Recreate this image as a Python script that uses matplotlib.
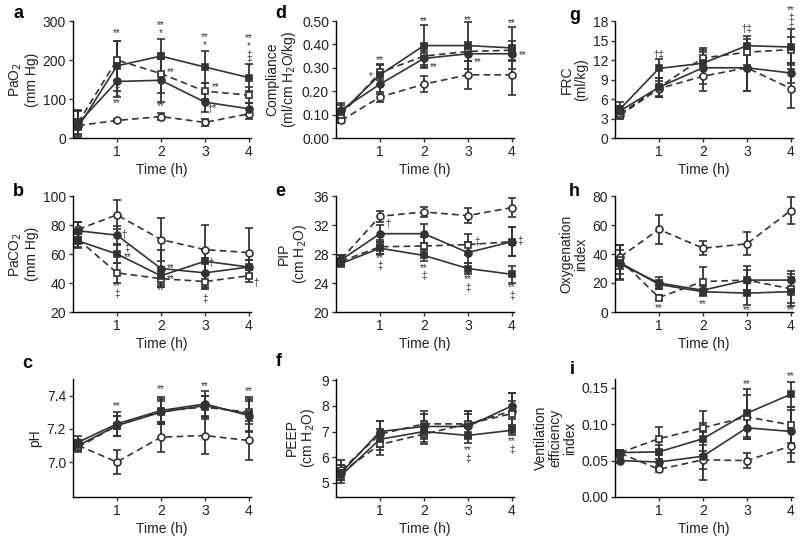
import matplotlib
matplotlib.use("Agg")
import matplotlib.pyplot as plt
import numpy as np

plt.rcParams.update({
    'font.family': ['Liberation Sans', 'DejaVu Sans'],
    'font.size': 10,
    'axes.linewidth': 1.0,
    'xtick.major.size': 3, 'ytick.major.size': 3,
    'xtick.major.width': 1.0, 'ytick.major.width': 1.0,
    'xtick.major.pad': 2, 'ytick.major.pad': 2,
})

times = [0.12, 1, 2, 3, 4]
# series order: dashed open circle, dashed open square, solid filled circle, solid filled square

pao2_mean = [[32, 45, 55, 40, 62], [40, 200, 165, 120, 110],
             [38, 145, 148, 92, 75], [28, 185, 210, 182, 155]]
pao2_err = [[5, 5, 8, 10, 12], [30, 50, 50, 20, 20],
            [35, 40, 55, 25, 15], [20, 65, 45, 42, 35]]
pao2_notes = [(1, 270, "**"), (1, 112, "‡\n‡\n**"),
              (2, 280, "**\n*"), (2.22, 168, "**"), (2, 82, "**"),
              (3, 248, "**\n*"), (3.24, 130, "**"), (3.17, 75, "†*"),
              (4, 224, "**\n*\n‡\n‡")]

paco2_mean = [[77, 87, 70, 63, 61], [70, 47, 43, 41, 45],
              [76, 73, 50, 47, 51], [69, 60, 45, 55, 51]]
paco2_err = [[5, 10, 15, 17, 17], [5, 7, 5, 5, 4],
             [6, 6, 13, 10, 5], [5, 6, 6, 8, 5]]
paco2_notes = [(1.17, 73, "†"), (1.24, 61, "‡\n**"), (1, 35, "**\n‡"),
               (2.22, 50, "**"), (2.22, 43, "**"), (2, 35, "**"),
               (3.15, 54, "†"), (3, 32, "**\n‡"), (4.17, 40, "†")]

ph_mean = [[7.10, 7.00, 7.15, 7.16, 7.13], [7.09, 7.22, 7.31, 7.33, 7.30],
           [7.12, 7.23, 7.31, 7.35, 7.28], [7.10, 7.22, 7.30, 7.34, 7.29]]
ph_err = [[0.03, 0.07, 0.09, 0.11, 0.12], [0.03, 0.06, 0.07, 0.07, 0.07],
          [0.04, 0.07, 0.08, 0.08, 0.10], [0.03, 0.06, 0.07, 0.06, 0.10]]
ph_notes = [(1, 7.34, "**"), (2, 7.44, "**"), (3, 7.455, "**"), (4, 7.43, "**")]

comp_mean = [[0.075, 0.175, 0.23, 0.27, 0.27], [0.10, 0.28, 0.35, 0.37, 0.375],
             [0.12, 0.23, 0.34, 0.36, 0.36], [0.11, 0.27, 0.395, 0.395, 0.385]]
comp_err = [[0.01, 0.02, 0.035, 0.06, 0.085], [0.02, 0.03, 0.05, 0.04, 0.04],
            [0.03, 0.04, 0.03, 0.03, 0.03], [0.03, 0.045, 0.09, 0.10, 0.09]]
comp_notes = [(1, 0.335, "**"), (0.8, 0.265, "*"), (2, 0.50, "**"), (2.22, 0.305, "**"),
              (3, 0.505, "**"), (3.22, 0.325, "**"), (4, 0.49, "**"), (4.24, 0.355, "**")]

pip_mean = [[27.3, 33.2, 33.8, 33.3, 34.4], [27.0, 29.0, 29.1, 29.3, 29.7],
            [27.2, 30.8, 30.8, 28.2, 29.7], [26.7, 28.8, 27.8, 26.0, 25.2]]
pip_err = [[0.6, 0.8, 0.7, 1.0, 1.3], [0.5, 1.0, 1.2, 1.5, 2.0],
           [0.6, 1.2, 1.3, 1.5, 2.0], [0.5, 0.8, 0.8, 0.8, 1.2]]
pip_notes = [(1.18, 32.2, "†"), (1, 26.9, "**\n‡"), (2, 25.5, "**\n‡"),
             (3.2, 29.6, "‡"), (3, 23.9, "**\n‡"), (4.18, 29.8, "‡"),
             (4, 22.8, "**\n‡")]

peep_mean = [[5.5, 6.9, 7.3, 7.3, 7.8], [5.4, 6.5, 6.9, 7.3, 7.7],
             [5.4, 7.0, 7.2, 7.2, 8.0], [5.3, 6.7, 7.0, 6.85, 7.05]]
peep_err = [[0.4, 0.5, 0.5, 0.5, 0.7], [0.3, 0.4, 0.4, 0.5, 0.5],
            [0.3, 0.4, 0.5, 0.5, 0.5], [0.3, 0.4, 0.4, 0.3, 0.2]]
peep_notes = [(3, 6.1, "**\n‡"), (4, 6.45, "**\n‡")]

frc_mean = [[3.5, 7.6, 9.5, 10.8, 7.6], [3.7, 7.8, 12.3, 13.2, 13.6],
            [4.2, 7.8, 10.8, 10.8, 10.0], [4.5, 10.7, 11.5, 14.2, 14.0]]
frc_err = [[0.5, 1.2, 2.3, 3.5, 3.0], [0.5, 1.5, 1.5, 2.0, 2.0],
           [0.8, 1.5, 2.5, 3.5, 1.5], [1.0, 1.5, 2.0, 1.5, 2.7]]
frc_notes = [(1, 12.7, "†‡"), (3, 16.8, "†‡"), (4, 18.4, "**\n‡\n‡")]

oi_mean = [[38, 57, 44, 47, 70], [36, 10, 21, 22, 16],
           [33, 20, 15, 22, 22], [34, 19, 14, 13, 14]]
oi_err = [[8, 10, 5, 8, 9], [10, 2, 10, 10, 10],
          [10, 4, 3, 7, 6], [12, 3, 2, 8, 10]]
oi_notes = [(1, 2.5, "**"), (2, 5.5, "**"), (3, 1.0, "**"), (4, 1.0, "**")]

vei_mean = [[0.060, 0.038, 0.051, 0.050, 0.070], [0.061, 0.080, 0.095, 0.110, 0.099],
            [0.050, 0.048, 0.056, 0.095, 0.090], [0.061, 0.062, 0.080, 0.115, 0.141]]
vei_err = [[0.003, 0.004, 0.012, 0.010, 0.022], [0.003, 0.016, 0.023, 0.030, 0.025],
           [0.003, 0.010, 0.033, 0.015, 0.030], [0.003, 0.010, 0.022, 0.033, 0.017]]
vei_notes = [(3, 0.155, "**"), (4, 0.166, "**")]

DARK = "#333333"
STYLES = [
    dict(ls=(0, (4, 2.5)), marker="o", mfc="white"),
    dict(ls=(0, (4, 2.5)), marker="s", mfc="white"),
    dict(ls="-", marker="o", mfc=DARK),
    dict(ls="-", marker="s", mfc=DARK),
]

panels = [
    ("a", pao2_mean, pao2_err, pao2_notes, "PaO$_2$\n(mm Hg)", (0, 300), [0, 100, 200, 300], "{:.0f}"),
    ("b", paco2_mean, paco2_err, paco2_notes, "PaCO$_2$\n(mm Hg)", (20, 100), [20, 40, 60, 80, 100], "{:.0f}"),
    ("c", ph_mean, ph_err, ph_notes, "pH", (6.79, 7.5), [7.0, 7.2, 7.4], "{:.1f}"),
    ("d", comp_mean, comp_err, comp_notes, "Compliance\n(ml/cm H$_2$O/kg)", (0, 0.5),
     [0, 0.1, 0.2, 0.3, 0.4, 0.5], "{:.2f}"),
    ("e", pip_mean, pip_err, pip_notes, "PIP\n(cm H$_2$O)", (20, 36), [20, 24, 28, 32, 36], "{:.0f}"),
    ("f", peep_mean, peep_err, peep_notes, "PEEP\n(cm H$_2$O)", (4.45, 9.05), [5, 6, 7, 8, 9], "{:.0f}"),
    ("g", frc_mean, frc_err, frc_notes, "FRC\n(ml/kg)", (0, 18), [0, 3, 6, 9, 12, 15, 18], "{:.0f}"),
    ("h", oi_mean, oi_err, oi_notes, "Oxygenation\nindex", (0, 80), [0, 20, 40, 60, 80], "{:.0f}"),
    ("i", vei_mean, vei_err, vei_notes, "Ventilation\nefficiency\nindex", (0, 0.162),
     [0, 0.05, 0.10, 0.15], "{:.2f}"),
]

W, H = 800, 537
fig = plt.figure(figsize=(8, 5.37), dpi=100)

col_left = [73, 336, 615]
rows = [(21, 138), (196, 312), (379, 497)]
ax_w = 178
letter_pos = {"a": (13, 14), "b": (13, 191), "c": (22, 364), "d": (275, 14), "e": (275, 191),
              "f": (276, 362), "g": (569, 15), "h": (569, 191), "i": (570, 370)}

for k, (letter, means, errs, notes, ylabel, ylim, yticks, fmt) in enumerate(panels):
    c, r = divmod(k, 3)
    top, bot = rows[r]
    ax = fig.add_axes([col_left[c] / W, 1 - bot / H, ax_w / W, (bot - top) / H])
    for m, e, st in zip(means, errs, STYLES):
        ax.errorbar(times, m, yerr=e, color=DARK, ecolor=DARK, elinewidth=1.3,
                    capsize=3, capthick=1.3, lw=1.2, ls=st["ls"], marker=st["marker"],
                    ms=5, mfc=st["mfc"], mec=DARK, mew=1.2, clip_on=False)
    for x, y, t in notes:
        ax.text(x, y, t, ha="center", va="center", fontsize=7, color=DARK,
                linespacing=0.8, clip_on=False)
    ax.set_xlim(0, 4.05)
    ax.set_ylim(*ylim)
    ax.set_xticks([1, 2, 3, 4])
    ax.set_yticks(yticks)
    ax.set_yticklabels([fmt.format(v) for v in yticks])
    ax.spines["top"].set_visible(False)
    ax.spines["right"].set_visible(False)
    ax.tick_params(direction="out", colors=DARK, labelcolor="#222222")
    ax.set_xlabel("Time (h)", color="#222222", labelpad=3)
    ax.set_ylabel(ylabel, color="#222222", linespacing=1.05, labelpad=3)
    lx, ly = letter_pos[letter]
    fig.text(lx / W, 1 - ly / H, letter, fontsize=13, fontweight="bold", va="center", ha="left")

fig.savefig("out.png", dpi=100)
